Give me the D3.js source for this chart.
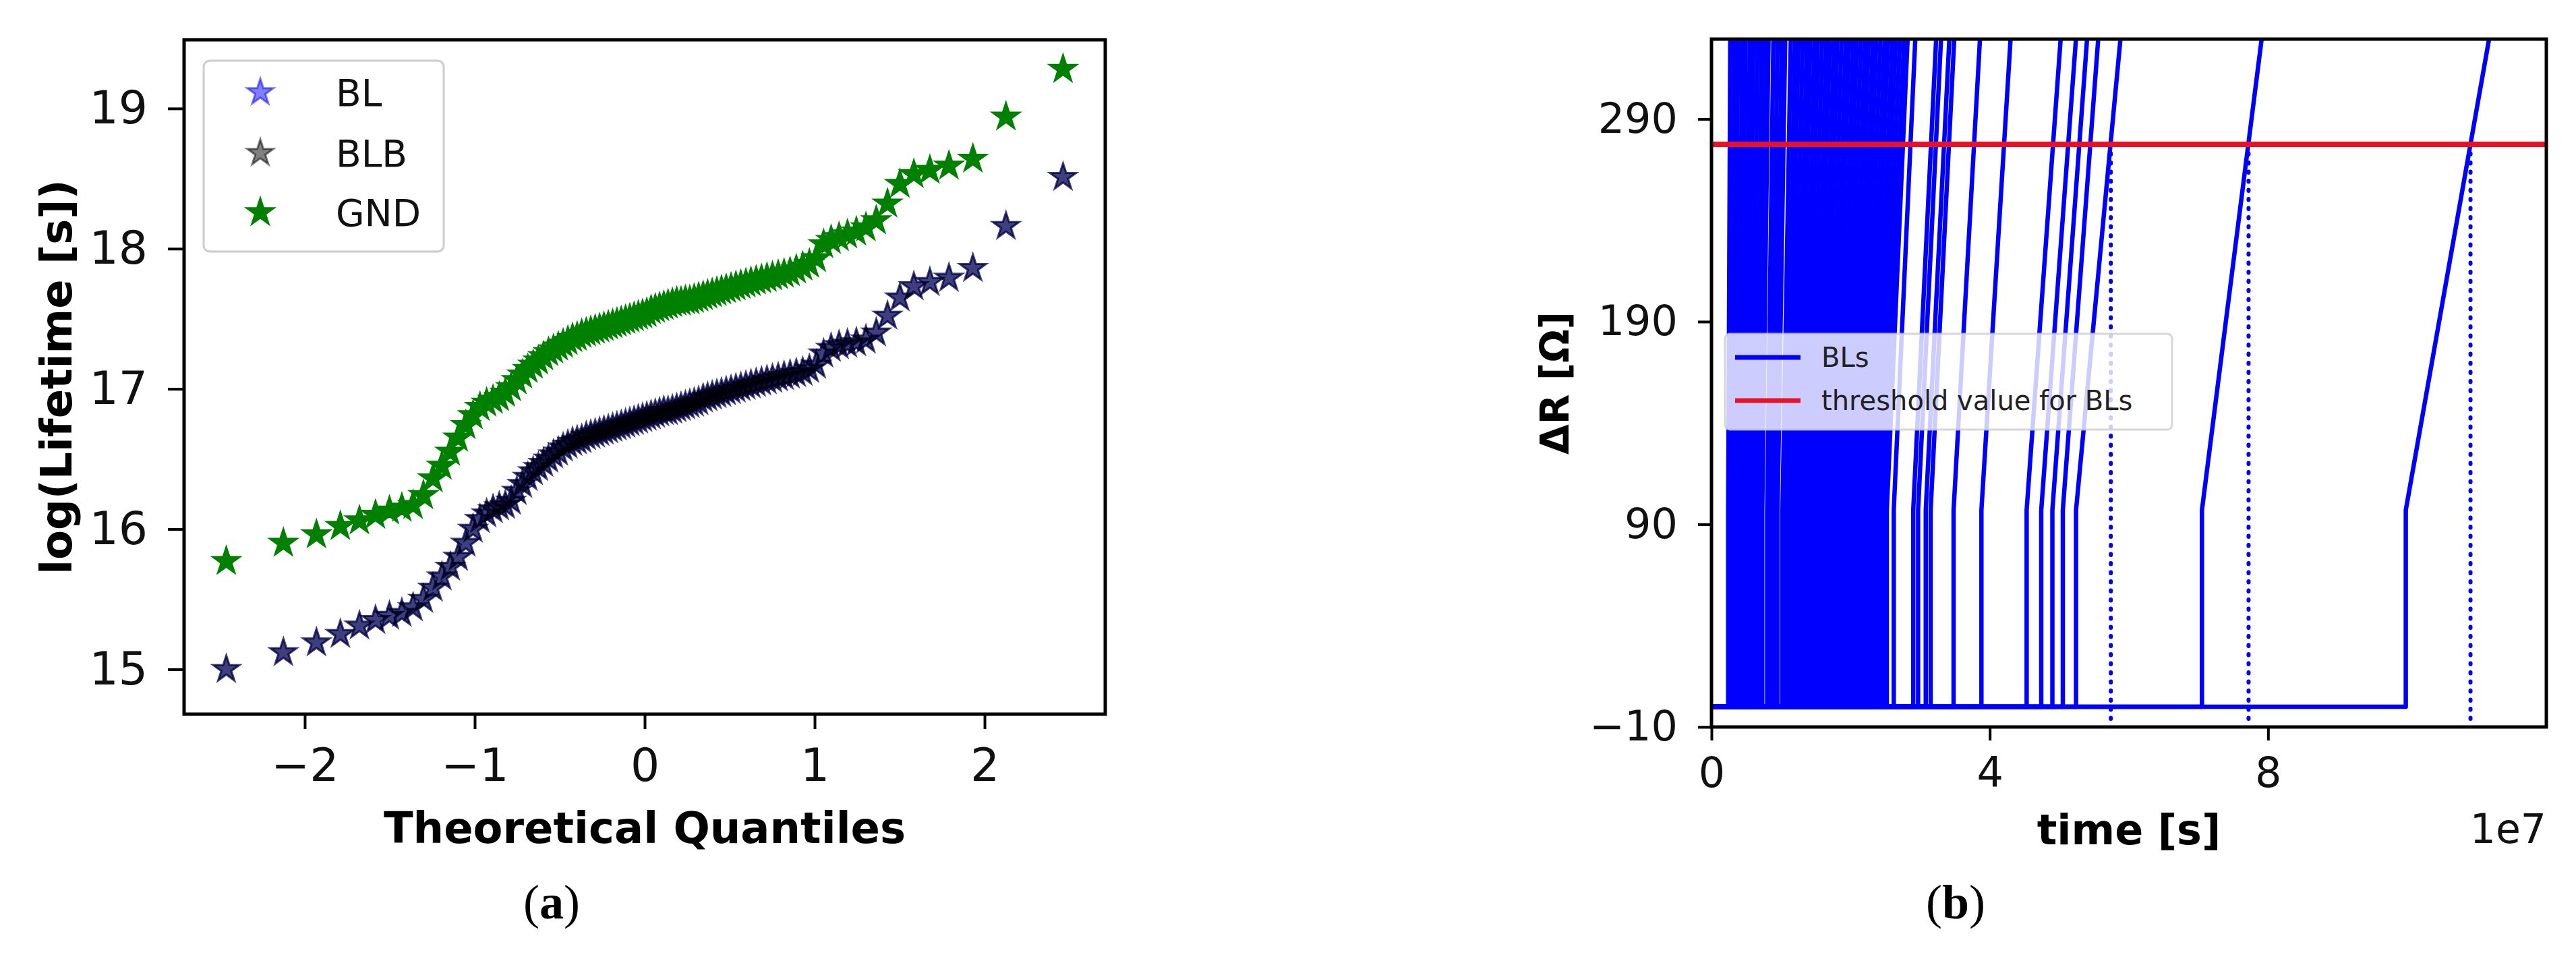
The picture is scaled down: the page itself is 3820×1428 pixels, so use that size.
<!DOCTYPE html>
<html>
<head>
<meta charset="utf-8">
<script src="https://cdn.jsdelivr.net/npm/d3@7"></script>
<style>
  body { margin: 0; background: #fff; }
  svg { display: block; font-family: "DejaVu Sans", sans-serif; }
</style>
</head>
<body>
<div id="chart"></div>
<script>
// ---- (a) Q-Q plot, 100 samples per pattern ----
const quantiles = [
  -2.4617, -2.1258, -1.9312, -1.7905, -1.6782, -1.5838, -1.5018, -1.4287, -1.3626, -1.3019,
  -1.2457, -1.1932, -1.1438, -1.0970, -1.0525, -1.0100, -0.9692, -0.9300, -0.8922, -0.8556,
  -0.8201, -0.7856, -0.7521, -0.7193, -0.6874, -0.6561, -0.6254, -0.5953, -0.5658, -0.5367,
  -0.5081, -0.4798, -0.4520, -0.4245, -0.3973, -0.3704, -0.3439, -0.3174, -0.2913, -0.2654,
  -0.2396, -0.2139, -0.1884, -0.1631, -0.1378, -0.1126, -0.0875, -0.0625, -0.0375, -0.0125,
  0.0125, 0.0375, 0.0625, 0.0875, 0.1126, 0.1378, 0.1631, 0.1884, 0.2139, 0.2396,
  0.2654, 0.2913, 0.3174, 0.3439, 0.3704, 0.3973, 0.4245, 0.4520, 0.4798, 0.5081,
  0.5367, 0.5658, 0.5953, 0.6254, 0.6561, 0.6874, 0.7193, 0.7521, 0.7856, 0.8201,
  0.8556, 0.8922, 0.9300, 0.9692, 1.0100, 1.0525, 1.0970, 1.1438, 1.1932, 1.2457,
  1.3019, 1.3626, 1.4287, 1.5018, 1.5838, 1.6782, 1.7905, 1.9312, 2.1258, 2.4617
]

const blLifetime = [
  15.00, 15.12, 15.19, 15.25, 15.31, 15.35, 15.38, 15.40, 15.44, 15.50,
  15.58, 15.66, 15.73, 15.80, 15.90, 16.00, 16.07, 16.11, 16.14, 16.16,
  16.17, 16.20, 16.27, 16.32, 16.37, 16.41, 16.44, 16.47, 16.50, 16.53,
  16.55, 16.58, 16.60, 16.62, 16.63, 16.64, 16.66, 16.67, 16.68, 16.69,
  16.70, 16.71, 16.72, 16.73, 16.74, 16.75, 16.76, 16.77, 16.78, 16.79,
  16.80, 16.81, 16.82, 16.83, 16.84, 16.84, 16.85, 16.86, 16.87, 16.88,
  16.89, 16.90, 16.91, 16.93, 16.94, 16.95, 16.96, 16.97, 16.98, 16.99,
  17.00, 17.01, 17.02, 17.03, 17.04, 17.05, 17.06, 17.07, 17.08, 17.09,
  17.10, 17.11, 17.12, 17.14, 17.17, 17.25, 17.29, 17.31, 17.32, 17.33,
  17.35, 17.40, 17.52, 17.65, 17.73, 17.76, 17.79, 17.86, 18.16, 18.51
]

// BLB sits exactly on top of BL in the picture
const blbLifetime = blLifetime

const gndLifetime = [
  15.77, 15.90, 15.96, 16.02, 16.06, 16.10, 16.13, 16.15, 16.17, 16.24,
  16.36, 16.45, 16.55, 16.65, 16.74, 16.81, 16.87, 16.90, 16.92, 16.94,
  16.97, 17.01, 17.06, 17.10, 17.14, 17.17, 17.20, 17.23, 17.26, 17.28,
  17.30, 17.32, 17.34, 17.36, 17.37, 17.39, 17.40, 17.41, 17.42, 17.43,
  17.44, 17.45, 17.46, 17.47, 17.48, 17.49, 17.50, 17.51, 17.52, 17.53,
  17.54, 17.56, 17.57, 17.58, 17.59, 17.60, 17.61, 17.62, 17.62, 17.63,
  17.63, 17.64, 17.65, 17.66, 17.67, 17.68, 17.69, 17.70, 17.71, 17.72,
  17.73, 17.74, 17.75, 17.76, 17.77, 17.78, 17.79, 17.80, 17.81, 17.82,
  17.83, 17.85, 17.87, 17.89, 17.93, 18.03, 18.06, 18.08, 18.10, 18.12,
  18.15, 18.20, 18.32, 18.46, 18.53, 18.56, 18.59, 18.64, 18.94, 19.28
]

const qqNames = ["BL", "BLB", "GND"]
const qqTicksX = [-2, -1, 0, 1, 2]
const qqTicksY = [15, 16, 17, 18, 19]

// ---- (b) resistance drift of the BLs, time in 1e7 s ----
// each BL: flat at 0 until riseStart, jump to kinkR, then linear up to topR at riseTop
const riseStart = [
  0.24, 0.29, 0.34, 0.39, 0.44, 0.49, 0.54, 0.59, 0.64, 0.69, 0.73, 0.80, 0.85, 0.90, 0.95,
  1.02, 1.07, 1.12, 1.17, 1.22, 1.27, 1.32, 1.37, 1.42, 1.47, 1.52, 1.57, 1.62, 1.67, 1.72,
  1.77, 1.82, 1.87, 1.92, 1.97, 2.02, 2.07, 2.12, 2.17, 2.22, 2.27, 2.32, 2.37, 2.42, 2.47, 2.52,
  2.62, 2.90, 2.97, 3.08, 3.15, 3.48, 3.88, 4.53, 4.74, 4.90, 5.05, 5.24, 7.05, 9.98
]
const riseTop = [
  0.27, 0.33, 0.38, 0.44, 0.49, 0.55, 0.60, 0.66, 0.72, 0.77, 0.82, 0.89, 0.95, 1.01, 1.06,
  1.14, 1.20, 1.25, 1.31, 1.37, 1.42, 1.48, 1.53, 1.59, 1.65, 1.70, 1.76, 1.81, 1.87, 1.93,
  1.98, 2.04, 2.09, 2.15, 2.21, 2.26, 2.32, 2.37, 2.43, 2.49, 2.54, 2.60, 2.65, 2.71, 2.77, 2.82,
  2.93, 3.23, 3.30, 3.42, 3.49, 3.86, 4.30, 5.02, 5.24, 5.40, 5.56, 5.88, 7.91, 11.18
]
const kinkR = 97
const topR = 330
const thresholdR = 277.5
const crossTimes = [5.74, 7.72, 10.91]
const timeTicks = [0, 4, 8]
const rTicks = [-10, 90, 190, 290]


const width = 3820
const height = 1428

const svg = d3.select("#chart").append("svg")
    .attr("width", width)
    .attr("height", height)
    .attr("viewBox", [0, 0, width, height])

svg.append("rect")
    .attr("width", width)
    .attr("height", height)
    .attr("fill", "#fff")

const intFormat = d3.format("d")

// styles an axis group the matplotlib way
function styleAxis(g, fontSize) {
    g.select(".domain").remove()
    g.selectAll(".tick line")
        .attr("stroke", "#000")
        .attr("stroke-width", 4)
    g.selectAll(".tick text")
        .attr("font-size", fontSize)
        .attr("font-family", "DejaVu Sans")
        .attr("fill", "#111")
}

function frame(g, x, y) {
    g.append("rect")
        .attr("x", x.range()[0])
        .attr("y", y.range()[1])
        .attr("width", x.range()[1] - x.range()[0])
        .attr("height", y.range()[0] - y.range()[1])
        .attr("fill", "none")
        .attr("stroke", "#000")
        .attr("stroke-width", 5)
}


function QQPanel({
    marginLeft = 273,
    marginRight = 1639,
    marginTop = 59,
    marginBottom = 1059
} = {}) {
    const x = d3.scaleLinear([-2.71, 2.71], [marginLeft, marginRight])
    const y = d3.scaleLinear([14.68, 19.49], [marginBottom, marginTop])
    const g = svg.append("g")

    const star = d3.symbol(d3.symbolStar, 470)
    const styles = {
        BL: { color: "#0000ff", opacity: 0.5 },
        BLB: { color: "#000000", opacity: 0.5 },
        GND: { color: "#008000", opacity: 1 }
    }
    const values = { BL: blLifetime, BLB: blbLifetime, GND: gndLifetime }

    qqNames.forEach(name => {
        const s = styles[name]
        g.append("g")
            .selectAll("path")
            .data(values[name])
            .join("path")
            .attr("d", star)
            .attr("transform", (d, i) => `translate(${x(quantiles[i])},${y(d)})`)
            .attr("fill", s.color)
            .attr("fill-opacity", s.opacity)
            .attr("stroke", s.color)
            .attr("stroke-opacity", s.opacity)
            .attr("stroke-width", 3)
    })

    frame(g, x, y)

    g.append("g")
        .attr("transform", `translate(0,${marginBottom})`)
        .call(d3.axisBottom(x).tickValues(qqTicksX).tickFormat(intFormat).tickSize(22).tickPadding(29))
        .call(a => styleAxis(a, 68))

    g.append("g")
        .attr("transform", `translate(${marginLeft},0)`)
        .call(d3.axisLeft(y).tickValues(qqTicksY).tickFormat(intFormat).tickSize(24).tickPadding(30))
        .call(a => styleAxis(a, 68))

    g.append("text")
        .attr("x", x(0))
        .attr("y", 1250)
        .attr("text-anchor", "middle")
        .attr("font-size", 64)
        .attr("font-weight", "bold")
        .text("Theoretical Quantiles")

    g.append("text")
        .attr("transform", `translate(84,${(marginTop + marginBottom) / 2}) rotate(-90)`)
        .attr("dy", "0.35em")
        .attr("text-anchor", "middle")
        .attr("font-size", 64)
        .attr("font-weight", "bold")
        .text("log(Lifetime [s])")

    // legend
    const lg = g.append("g")
    lg.append("rect")
        .attr("x", 302).attr("y", 90)
        .attr("width", 356).attr("height", 283)
        .attr("rx", 9)
        .attr("fill", "#fff")
        .attr("stroke", "#ccc")
        .attr("stroke-width", 3)
    const rowY = [137, 227, 315]
    qqNames.forEach((name, i) => {
        const s = styles[name]
        lg.append("path")
            .attr("d", d3.symbol(d3.symbolStar, 470)())
            .attr("transform", `translate(386,${rowY[i]})`)
            .attr("fill", s.color)
            .attr("fill-opacity", s.opacity)
            .attr("stroke", s.color)
            .attr("stroke-opacity", s.opacity)
            .attr("stroke-width", 3)
        lg.append("text")
            .attr("x", 498)
            .attr("y", rowY[i])
            .attr("dy", "0.36em")
            .attr("font-size", 55)
            .attr("fill", "#111")
            .text(name)
    })
}


function DriftPanel({
    marginLeft = 2538,
    marginRight = 3776,
    marginTop = 58,
    marginBottom = 1078
} = {}) {
    const x = d3.scaleLinear([0, 12.0], [marginLeft, marginRight])
    const y = d3.scaleLinear([-10, 329.4], [marginBottom, marginTop])
    const g = svg.append("g")

    g.append("clipPath")
        .attr("id", "clip-b")
        .append("rect")
        .attr("x", marginLeft).attr("y", marginTop)
        .attr("width", marginRight - marginLeft)
        .attr("height", marginBottom - marginTop)

    const plot = g.append("g").attr("clip-path", "url(#clip-b)")

    const line = d3.line()
        .x(d => x(d[0]))
        .y(d => y(d[1]))

    const curves = riseStart.map((t0, i) => [[0, 0], [t0, 0], [t0, kinkR], [riseTop[i], topR]])

    plot.append("g")
        .selectAll("path")
        .data(curves)
        .join("path")
        .attr("d", line)
        .attr("fill", "none")
        .attr("stroke", "#0000ff")
        .attr("stroke-width", 6.5)
        .attr("stroke-linejoin", "round")

    // dotted drop lines where a BL crosses the threshold
    plot.append("g")
        .selectAll("line")
        .data(crossTimes)
        .join("line")
        .attr("x1", d => x(d)).attr("x2", d => x(d))
        .attr("y1", y(thresholdR)).attr("y2", y(-7))
        .attr("stroke", "#0000ff")
        .attr("stroke-width", 6)
        .attr("stroke-linecap", "round")
        .attr("stroke-dasharray", "1.5,12")

    plot.append("line")
        .attr("x1", marginLeft).attr("x2", marginRight)
        .attr("y1", y(thresholdR)).attr("y2", y(thresholdR))
        .attr("stroke", "#ea1026")
        .attr("stroke-width", 8)

    frame(g, x, y)

    g.append("g")
        .attr("transform", `translate(0,${marginBottom})`)
        .call(d3.axisBottom(x).tickValues(timeTicks).tickFormat(intFormat).tickSize(20).tickPadding(25))
        .call(a => styleAxis(a, 62))

    g.append("g")
        .attr("transform", `translate(${marginLeft},0)`)
        .call(d3.axisLeft(y).tickValues(rTicks).tickFormat(intFormat).tickSize(20).tickPadding(30))
        .call(a => styleAxis(a, 62))

    g.append("text")
        .attr("x", (marginLeft + marginRight) / 2)
        .attr("y", 1252)
        .attr("text-anchor", "middle")
        .attr("font-size", 62)
        .attr("font-weight", "bold")
        .text("time [s]")

    g.append("text")
        .attr("x", marginRight)
        .attr("y", 1250)
        .attr("text-anchor", "end")
        .attr("font-size", 60)
        .attr("fill", "#111")
        .text("1e7")

    g.append("text")
        .attr("transform", `translate(2306,${(marginTop + marginBottom) / 2}) rotate(-90)`)
        .attr("dy", "0.35em")
        .attr("text-anchor", "middle")
        .attr("font-size", 58)
        .attr("font-weight", "bold")
        .text("ΔR [Ω]")

    // legend
    const lg = g.append("g")
    lg.append("rect")
        .attr("x", 2558).attr("y", 495)
        .attr("width", 663).attr("height", 142)
        .attr("rx", 7)
        .attr("fill", "#fff")
        .attr("fill-opacity", 0.8)
        .attr("stroke", "#ccc")
        .attr("stroke-opacity", 0.8)
        .attr("stroke-width", 3)
    const entries = [
        { label: "BLs", color: "#0000ff", y: 530 },
        { label: "threshold value for BLs", color: "#ea1026", y: 594 }
    ]
    entries.forEach(e => {
        lg.append("line")
            .attr("x1", 2573).attr("x2", 2670)
            .attr("y1", e.y).attr("y2", e.y)
            .attr("stroke", e.color)
            .attr("stroke-width", 7)
        lg.append("text")
            .attr("x", 2701)
            .attr("y", e.y)
            .attr("dy", "0.36em")
            .attr("font-size", 40)
            .attr("fill", "#222")
            .text(e.label)
    })
}


function caption(cx, letter) {
    const t = svg.append("text")
        .attr("x", cx)
        .attr("y", 1362)
        .attr("text-anchor", "middle")
        .attr("font-family", "Liberation Serif")
        .attr("font-size", 72)
        .attr("fill", "#000")
    t.append("tspan").text("(")
    t.append("tspan").attr("font-weight", "bold").text(letter)
    t.append("tspan").text(")")
}


QQPanel()
DriftPanel()
caption(818, "a")
caption(2900, "b")
</script>
</body>
</html>
